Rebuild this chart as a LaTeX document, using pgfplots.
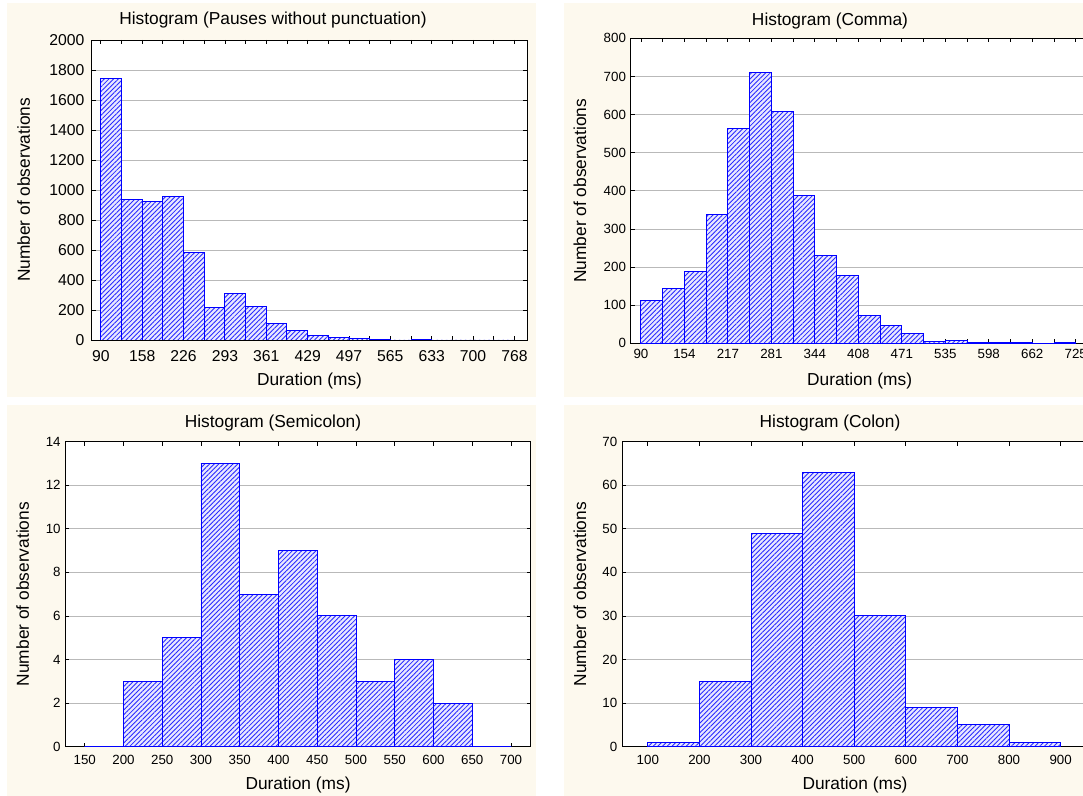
\documentclass[border=0pt]{standalone}
\usepackage{pgfplots}
\pgfplotsset{compat=1.18}
\usetikzlibrary{patterns.meta}
\usepackage{fontspec}
\setmainfont{Liberation Sans}
\definecolor{cream}{RGB}{253,249,238}
\definecolor{barblue}{RGB}{0,0,255}
\definecolor{hatchblue}{RGB}{40,40,255}
\definecolor{barfill}{RGB}{232,232,255}
\definecolor{gridgray}{RGB}{185,185,185}

\pgfplotsset{
  hist/.style={
    scale only axis, anchor=south west,
    ymin=0, tick align=inside, major tick length=3pt, minor tick length=3pt,
    ymajorgrids, major grid style={draw=gridgray, line width=0.6pt},
    axis line style={line width=0.7pt},
    tick style={black, line width=0.6pt},
    yticklabel style={/pgf/number format/1000 sep={}, /pgf/number format/assume math mode=true},
    xticklabel style={/pgf/number format/assume math mode=true},
    label style={font=\fontsize{13}{15}\selectfont},
    xlabel={Duration (ms)}, ylabel={Number of observations},
    axis background/.style={fill=white},
  },
  hbar/.style={ybar interval, draw=barblue, line width=0.7pt, fill=barfill,
    postaction={pattern={Lines[angle=45,distance=2.5pt,line width=0.65pt]}, pattern color=hatchblue}},
}

\begin{document}
\begin{tikzpicture}
\path[use as bounding box] (0pt,0pt) rectangle (812.25pt,597pt);
\clip (0pt,0pt) rectangle (812.25pt,597pt);
\fill[cream] (5.25pt,299.6pt) rectangle (402pt,594.75pt);
\fill[cream] (423pt,299.6pt) rectangle (820pt,594.75pt);
\fill[cream] (5.25pt,0pt) rectangle (402pt,293.25pt);
\fill[cream] (423pt,0pt) rectangle (820pt,293.25pt);

\node[font=\fontsize{13}{15}\selectfont] at (204.75pt,582pt) {Histogram (Pauses without punctuation)};
\node[font=\fontsize{13}{15}\selectfont] at (622.5pt,581.5pt) {Histogram (Comma)};
\node[font=\fontsize{13}{15}\selectfont] at (204.75pt,279.75pt) {Histogram (Semicolon)};
\node[font=\fontsize{13}{15}\selectfont] at (622.5pt,279.75pt) {Histogram (Colon)};

% Top-left
\begin{axis}[hist, at={(68.85pt,342pt)}, width=326.6pt, height=225pt,
  xmin=75.2, xmax=789, ymax=2000, ytick={0,200,...,2000},
  xtick={90,157.8,225.6,293.4,361.2,429,496.8,564.6,632.4,700.2,768},
  xticklabels={90,158,226,293,361,429,497,565,633,700,768},
  minor x tick num=1,
  tick label style={font=\fontsize{11.8}{13}\selectfont},
  xticklabel style={yshift=-4pt},
  yticklabel style={xshift=-2pt},
  xlabel style={at={(axis description cs:0.5,-0.1367)}, anchor=center},
  ylabel style={at={(axis description cs:-0.1566,0.5)}, anchor=center},
]
\addplot[hbar] coordinates {
(90,1744) (123.9,938) (157.8,924) (191.7,956) (225.6,584) (259.5,218)
(293.4,311) (327.3,224) (361.2,107) (395.1,65) (429,30) (462.9,16)
(496.8,10) (530.7,5) (564.6,0) (598.5,2) (632.4,0) (666.3,0) (700.2,0)
(734.1,0) (768,0)};
\end{axis}

% Top-right
\begin{axis}[hist, at={(473pt,339.5pt)}, width=343.4pt, height=228.75pt,
  xmin=75, xmax=743.7, ymax=800, ytick={0,100,...,800},
  xtick={90,153.5,217,280.5,344,407.5,471,534.5,598,661.5,725},
  xticklabels={90,154,217,281,344,408,471,535,598,662,725},
  minor x tick num=1,
  tick label style={font=\fontsize{10}{12}\selectfont},
  xticklabel style={yshift=-1pt},
  xlabel style={at={(axis description cs:0.5,-0.1236)}, anchor=center},
  ylabel style={at={(axis description cs:-0.1107,0.5)}, anchor=center},
]
\addplot[hbar] coordinates {
(90,113) (121.75,144) (153.5,189) (185.25,338) (217,564) (248.75,711)
(280.5,608) (312.25,389) (344,231) (375.75,177) (407.5,73) (439.25,46)
(471,27) (502.75,6) (534.5,8) (566.25,1) (598,3) (629.75,1) (661.5,0)
(693.25,1) (725,0)};
\end{axis}

% Bottom-left
\begin{axis}[hist, at={(49pt,37pt)}, width=349.1pt, height=228.75pt,
  xmin=125, xmax=725.5, ymax=14, ytick={0,2,...,14},
  xtick={150,200,...,700},
  tick label style={font=\fontsize{10}{12}\selectfont},
  xticklabel style={yshift=-2.5pt},
  xlabel style={at={(axis description cs:0.5,-0.1256)}, anchor=center},
  ylabel style={at={(axis description cs:-0.0917,0.5)}, anchor=center},
]
\addplot[hbar] coordinates {
(150,0) (200,3) (250,5) (300,13) (350,7) (400,9) (450,6) (500,3)
(550,4) (600,2) (650,0) (700,0)};
\end{axis}

% Bottom-right
\begin{axis}[hist, at={(466.5pt,37pt)}, width=349.5pt, height=228.75pt,
  xmin=50, xmax=953, ymax=70, ytick={0,10,...,70},
  xtick={100,200,...,900},
  tick label style={font=\fontsize{10}{12}\selectfont},
  xticklabel style={yshift=-2.5pt},
  xlabel style={at={(axis description cs:0.5,-0.1256)}, anchor=center},
  ylabel style={at={(axis description cs:-0.0901,0.5)}, anchor=center},
]
\addplot[hbar] coordinates {
(100,1) (200,15) (300,49) (400,63) (500,30) (600,9) (700,5) (800,1) (900,0)};
\end{axis}
\end{tikzpicture}
\end{document}
